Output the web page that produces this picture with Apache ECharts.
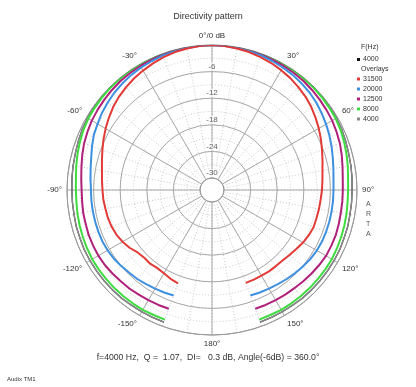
<!DOCTYPE html>
<html><head><meta charset="utf-8">
<script src="https://cdn.jsdelivr.net/npm/echarts@6/dist/echarts.min.js"></script>
<style>html,body{margin:0;padding:0;background:#fff}#c{width:416px;height:387px}</style>
</head><body><div id="c"></div>
<script>
// angles in degrees (0 = front, negative = left side)
const angles = [-160,-155,-150,-145,-140,-135,-130,-125,-120,-115,-110,-105,-100,-95,-90,-85,-80,-75,-70,-65,-60,-55,-50,-45,-40,-35,-30,-25,-20,-15,-10,-5,0,5,10,15,20,25,30,35,40,45,50,55,60,65,70,75,80,85,90,95,100,105,110,115,120,125,130,135,140,145,150,155,160];
// level in dB per angle
const f31500 = [-10.3,-10.6,-11.0,-11.2,-11.0,-11.1,-10.8,-10.0,-9.4,-8.9,-8.6,-8.4,-8.3,-8.1,-8.0,-7.8,-7.5,-7.0,-6.4,-5.7,-5.0,-4.3,-3.6,-3.0,-2.5,-2.0,-1.6,-1.2,-0.8,-0.5,-0.3,-0.1,0,-0.1,-0.3,-0.5,-0.8,-1.1,-1.5,-1.9,-2.4,-2.9,-3.5,-4.2,-4.9,-5.6,-6.3,-6.9,-7.4,-7.7,-7.9,-8.1,-8.2,-8.3,-8.3,-8.6,-9.0,-9.5,-9.9,-10.2,-10.3,-10.3,-10.4,-10.4,-10.4];
const f20000 = [-7.4,-7.2,-7.0,-6.8,-6.5,-6.3,-6.0,-5.7,-5.5,-5.4,-5.4,-5.4,-5.4,-5.4,-5.4,-5.2,-4.9,-4.5,-3.9,-3.3,-2.9,-2.4,-2.0,-1.6,-1.3,-1.0,-0.8,-0.6,-0.4,-0.3,-0.2,-0.1,0,-0.1,-0.2,-0.3,-0.4,-0.6,-0.8,-1.0,-1.3,-1.6,-2.0,-2.5,-3.0,-3.5,-4.0,-4.5,-4.9,-5.2,-5.3,-5.3,-5.3,-5.3,-5.3,-5.3,-5.4,-5.6,-5.9,-6.2,-6.5,-6.8,-7.0,-7.2,-7.4];
const f12500 = [-4.2,-4.1,-4.0,-3.9,-3.7,-3.6,-3.4,-3.2,-3.1,-3.1,-3.1,-3.2,-3.2,-3.3,-3.3,-3.1,-2.8,-2.4,-2.0,-1.7,-1.4,-1.2,-1.0,-0.8,-0.6,-0.5,-0.4,-0.3,-0.2,-0.1,-0.1,0,0,0,-0.1,-0.1,-0.2,-0.3,-0.4,-0.5,-0.6,-0.8,-1.0,-1.2,-1.4,-1.7,-2.0,-2.4,-2.8,-3.1,-3.2,-3.2,-3.2,-3.1,-3.0,-3.0,-3.0,-3.2,-3.4,-3.6,-3.8,-3.9,-4.0,-4.1,-4.2];
const f8000 = [-1.6,-1.6,-1.5,-1.5,-1.5,-1.5,-1.5,-1.5,-1.5,-1.6,-1.7,-1.8,-1.9,-2.0,-2.0,-1.9,-1.6,-1.3,-1.0,-0.7,-0.5,-0.4,-0.3,-0.2,-0.2,-0.1,-0.1,-0.1,0,0,0,0,0,0,0,0,0,-0.1,-0.1,-0.1,-0.2,-0.2,-0.3,-0.4,-0.5,-0.7,-1.0,-1.3,-1.6,-1.9,-2.0,-2.0,-1.9,-1.8,-1.7,-1.6,-1.5,-1.5,-1.5,-1.5,-1.5,-1.5,-1.5,-1.6,-1.6];
const f4000 = [-1.0,-1.0,-1.0,-1.0,-0.9,-0.9,-0.9,-0.9,-0.9,-0.9,-1.0,-1.0,-1.1,-1.1,-1.1,-1.0,-0.9,-0.8,-0.6,-0.4,-0.3,-0.2,-0.2,-0.1,-0.1,0,0,0,0,0,0,0,0,0,0,0,0,0,0,0,-0.1,-0.1,-0.2,-0.2,-0.3,-0.4,-0.6,-0.8,-0.9,-1.0,-1.1,-1.1,-1.1,-1.0,-1.0,-0.9,-0.9,-0.9,-0.9,-0.9,-0.9,-1.0,-1.0,-1.0,-1.0];
const radiusTicks = [-6,-12,-18,-24,-30];
const legendMain = ['4000'];
const legendOverlay = ['31500','20000','12500','8000','4000 '];

const pairs = arr => arr.map((v,i)=>[v, angles[i]]);
const F = 'Liberation Sans, Arial, sans-serif';
const chart = echarts.init(document.getElementById('c'));
const polarCenter = [212,190], polarRadius = [12,145];
function lineSeries(name, arr, color, w){
  return {type:'line', name, coordinateSystem:'polar', polarIndex:1, data:pairs(arr),
    showSymbol:false, symbol:'rect', symbolSize:3, lineStyle:{color, width:w}, itemStyle:{color}, animation:false, z:3};
}
const txt = (size, color) => ({fontSize:size, fontWeight:'normal', color:color||'#333', fontFamily:F});
chart.setOption({
  animation:false,
  title:[
    {text:'Directivity pattern', left:'center', top:7, textStyle:txt(9)},
    {text:'f=4000 Hz,  Q =  1.07,  DI=   0.3 dB, Angle(-6dB) = 360.0°', left:'center', top:348, textStyle:txt(8.7)},
    {text:'Audix TM1', left:2, top:371, textStyle:txt(6)},
    {text:'A\nR\nT\nA', left:361, top:194, textStyle:Object.assign(txt(7,'#555'),{lineHeight:10})},
    {text:'F(Hz)', left:356, top:39, textStyle:txt(7)},
    {text:'Overlays', left:356, top:61, textStyle:txt(7)}
  ],
  legend:[
    {data:legendMain, orient:'vertical', left:357, top:56, icon:'rect', itemWidth:3, itemHeight:3, itemGap:2, padding:0,
      textStyle:Object.assign(txt(7),{padding:[0,0,0,-2]})},
    {data:legendOverlay, orient:'vertical', left:357, top:75, icon:'rect', itemWidth:3, itemHeight:3, itemGap:2, padding:0,
      textStyle:Object.assign(txt(7),{lineHeight:8, padding:[0,0,0,-2]})}
  ],
  polar:[{center:polarCenter, radius:polarRadius},{center:polarCenter, radius:polarRadius}],
  angleAxis:[
    {polarIndex:0, type:'value', min:-180, max:180, interval:10, startAngle:270, clockwise:true,
      axisLine:{show:false}, axisTick:{show:false}, axisLabel:{show:false},
      splitLine:{show:true, lineStyle:{color:'#c8c8c8', type:[1,2], width:1}}},
    {polarIndex:1, type:'value', min:-180, max:180, interval:30, startAngle:270, clockwise:true,
      axisLine:{show:true, lineStyle:{color:'#999', width:1}}, axisTick:{show:false},
      axisLabel:{show:true, margin:5, fontSize:8, color:'#333', fontFamily:F,
        formatter: v => v===0 ? '0°/0 dB' : (Math.abs(v)===180 ? '180°' : v+'°')},
      splitLine:{show:true, lineStyle:{color:'#a8a8a8', width:1}}}
  ],
  radiusAxis:[
    {polarIndex:0, type:'value', min:-30, max:0, interval:3, axisLine:{show:false}, axisTick:{show:false}, axisLabel:{show:false},
      splitLine:{show:true, lineStyle:{color:'#c8c8c8', type:[1,2], width:1}}},
    {polarIndex:1, type:'value', min:-30, max:0, interval:6, axisLine:{show:false}, axisTick:{show:false}, axisLabel:{show:false},
      splitLine:{show:true, lineStyle:{color:'#a8a8a8', width:1}}}
  ],
  series:[
    {type:'scatter', coordinateSystem:'polar', polarIndex:1, symbolSize:0, silent:true, z:5,
      data: radiusTicks.map(r=>[r,0]),
      label:{show:true, position:'top', distance:1, formatter:p=>String(p.value[0]), fontSize:8, color:'#333', fontFamily:F,
        backgroundColor:'#fff', padding:[0,1]}},
    lineSeries('4000', f4000, '#111', 1.2),
    lineSeries('4000 ', f4000, '#8a8a8a', 1.5),
    lineSeries('8000', f8000, '#3fdc3f', 2),
    lineSeries('12500', f12500, '#b0207a', 2),
    lineSeries('20000', f20000, '#3d8fe0', 2),
    lineSeries('31500', f31500, '#e23a36', 2)
  ]
});
</script></body></html>
